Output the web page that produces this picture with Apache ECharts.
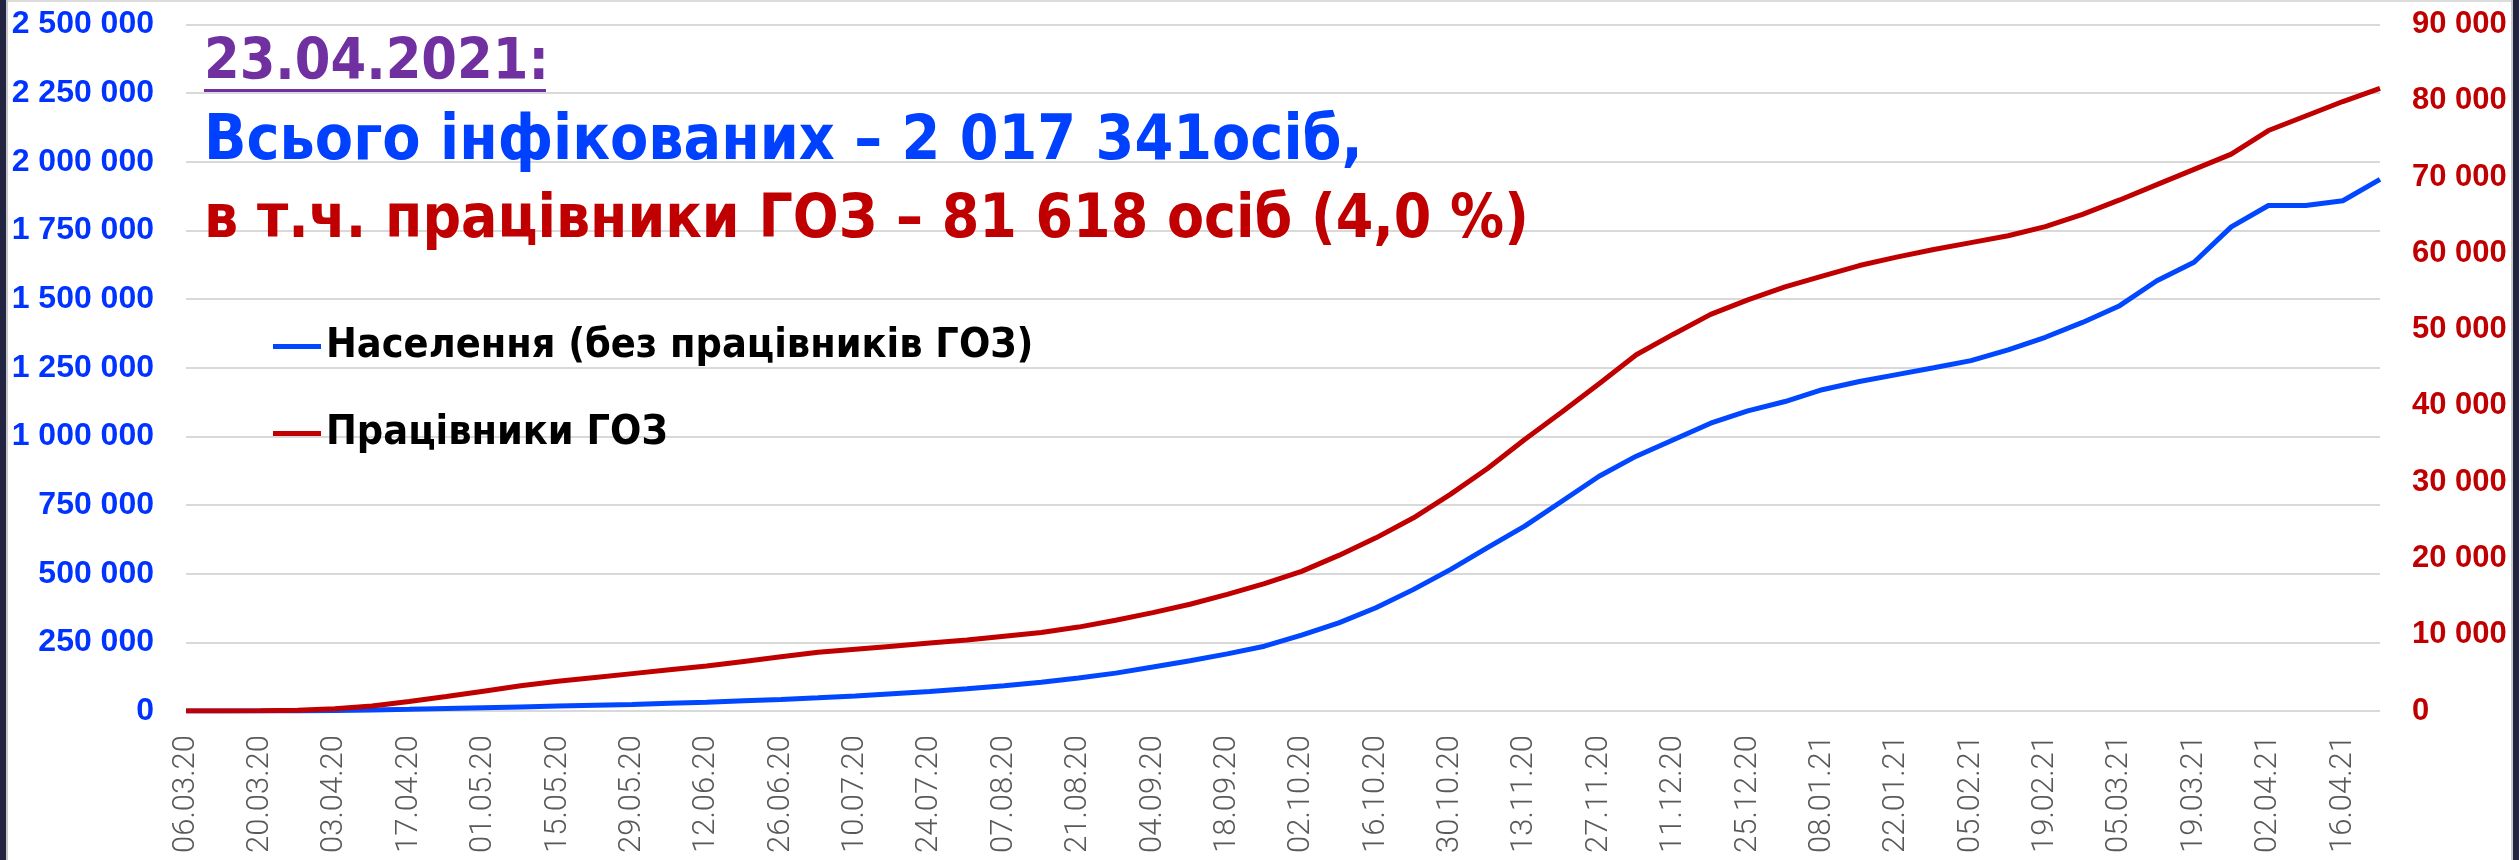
<!DOCTYPE html>
<html>
<head>
<meta charset="utf-8">
<title>Інфіковані COVID-19</title>
<script src="https://cdn.jsdelivr.net/npm/echarts@6/dist/echarts.min.js"></script>
<style>
  html, body { margin: 0; padding: 0; background: #fff; }
  #chart { position: absolute; left: 0; top: 0; width: 2519px; height: 860px; }
  .edge { position: absolute; top: 0; height: 860px; background: #23243f; }
  .edge.left { left: 0; width: 6px; border-right: 2px solid #c8c8cc; }
  .edge.right { right: 0; width: 6px; border-left: 2px solid #c8c8cc; }
  .topline { position: absolute; left: 0; top: 0; width: 2519px; height: 2px; background: #dcdcdc; }
</style>
</head>
<body>
<div id="chart"></div>
<div class="topline"></div>
<div class="edge left"></div>
<div class="edge right"></div>
<script>
// тижневі дати (мітки осі X)
var dates = [
  '06.03.20', '13.03.20', '20.03.20', '27.03.20', '03.04.20', '10.04.20', '17.04.20', '24.04.20',
  '01.05.20', '08.05.20', '15.05.20', '22.05.20', '29.05.20', '05.06.20', '12.06.20', '19.06.20',
  '26.06.20', '03.07.20', '10.07.20', '17.07.20', '24.07.20', '31.07.20', '07.08.20', '14.08.20',
  '21.08.20', '28.08.20', '04.09.20', '11.09.20', '18.09.20', '25.09.20', '02.10.20', '09.10.20',
  '16.10.20', '23.10.20', '30.10.20', '06.11.20', '13.11.20', '20.11.20', '27.11.20', '04.12.20',
  '11.12.20', '18.12.20', '25.12.20', '01.01.21', '08.01.21', '15.01.21', '22.01.21', '29.01.21',
  '05.02.21', '12.02.21', '19.02.21', '26.02.21', '05.03.21', '12.03.21', '19.03.21', '26.03.21',
  '02.04.21', '09.04.21', '16.04.21', '23.04.21'
]

// населення (без працівників ГОЗ) - ліва вісь
var population = [
  0, 0, 50, 300, 1500, 3500, 6000, 9000,
  12000, 15000, 18000, 21000, 24000, 28000, 32000, 37000,
  42000, 48000, 55000, 63000, 71000, 81000, 92000, 105000,
  120000, 138000, 160000, 183000, 208000, 236000, 276000, 321000,
  376000, 442000, 515000, 595000, 673000, 764000, 855000, 928000,
  988000, 1048000, 1093000, 1127000, 1170000, 1200000, 1225000, 1250000,
  1276000, 1315000, 1361000, 1415000, 1476000, 1567000, 1634000, 1763000,
  1841000, 1841000, 1858000, 1935723
]

// працівники ГОЗ - права вісь
var medics = [
  0, 0, 20, 100, 300, 650, 1250, 1900,
  2600, 3300, 3900, 4400, 4900, 5400, 5900, 6500,
  7100, 7700, 8100, 8500, 8900, 9300, 9800, 10300,
  11000, 11900, 12900, 14000, 15300, 16700, 18300, 20400,
  22700, 25300, 28400, 31800, 35600, 39200, 42900, 46700,
  49400, 52000, 53900, 55600, 57000, 58400, 59500, 60500,
  61400, 62300, 63500, 65100, 67000, 69000, 71000, 73000,
  76100, 78000, 79900, 81618
]

var seriesNames = ['Населення (без працівників ГОЗ)', 'Працівники ГОЗ']
var titleLines = [
  '23.04.2021:',
  'Всього інфікованих – 2 017 341осіб,',
  'в т.ч. працівники ГОЗ – 81 618 осіб (4,0 %)'
]

var narrow = "'Liberation Sans Narrow', 'DejaVu Sans Condensed', 'Liberation Sans', sans-serif"

function spaced (v) {
  return String(v).replace(/\B(?=(\d{3})+(?!\d))/g, ' ')
}

var chart = echarts.init(document.getElementById('chart'), null, { renderer: 'canvas' })
chart.setOption({
  animation: false,
  backgroundColor: 'transparent',
  title: [{
    text: titleLines[0],
    left: 204,
    top: 36,
    padding: 0,
    textStyle: { color: '#7030a0', fontSize: 57, fontWeight: 'bold', fontFamily: narrow }
  }, {
    text: titleLines[1],
    left: 204,
    top: 112,
    padding: 0,
    textStyle: { color: '#0040ff', fontSize: 62, fontWeight: 'bold', fontFamily: narrow }
  }, {
    text: titleLines[2],
    left: 204,
    top: 191,
    padding: 0,
    textStyle: { color: '#c00000', fontSize: 60, fontWeight: 'bold', fontFamily: narrow }
  }],
  graphic: [{
    // підкреслення дати
    type: 'rect',
    left: 204,
    top: 89,
    shape: { width: 342, height: 5 },
    style: { fill: '#7030a0' }
  }],
  legend: {
    orient: 'vertical',
    left: 273,
    top: 326,
    padding: 0,
    itemGap: 46,
    itemWidth: 48,
    itemHeight: 5,
    icon: 'rect',
    data: seriesNames,
    textStyle: { color: '#000', fontSize: 41, fontWeight: 'bold', fontFamily: narrow }
  },
  grid: {
    left: 186,
    right: 139,
    top: 24.5,
    bottom: 149
  },
  xAxis: {
    type: 'category',
    data: dates,
    boundaryGap: false,
    axisLine: { show: false },
    axisTick: { show: false },
    axisLabel: {
      interval: 1,
      rotate: 90,
      margin: 24,
      color: '#595959',
      fontSize: 31,
      fontWeight: 300,
      fontFamily: 'Roboto, sans-serif'
    }
  },
  yAxis: [{
    type: 'value',
    min: 0,
    max: 2500000,
    interval: 250000,
    axisLine: { show: false },
    axisTick: { show: false },
    splitLine: { lineStyle: { color: '#d9d9d9', width: 2 } },
    axisLabel: {
      margin: 32,
      color: '#0033ff',
      fontSize: 32,
      fontWeight: 'bold',
      fontFamily: "'Liberation Sans', Arial, sans-serif",
      formatter: spaced
    }
  }, {
    type: 'value',
    min: 0,
    max: 90000,
    interval: 10000,
    axisLine: { show: false },
    axisTick: { show: false },
    splitLine: { show: false },
    axisLabel: {
      margin: 32,
      color: '#c00000',
      fontSize: 31,
      fontWeight: 'bold',
      fontFamily: "'Liberation Sans', Arial, sans-serif",
      formatter: spaced
    }
  }],
  series: [{
    name: seriesNames[0],
    type: 'line',
    yAxisIndex: 0,
    data: population,
    showSymbol: false,
    color: '#0047ff',
    lineStyle: { width: 5, color: '#0047ff' }
  }, {
    name: seriesNames[1],
    type: 'line',
    yAxisIndex: 1,
    data: medics,
    showSymbol: false,
    color: '#c00000',
    lineStyle: { width: 5, color: '#c00000' }
  }]
})
</script>
</body>
</html>
